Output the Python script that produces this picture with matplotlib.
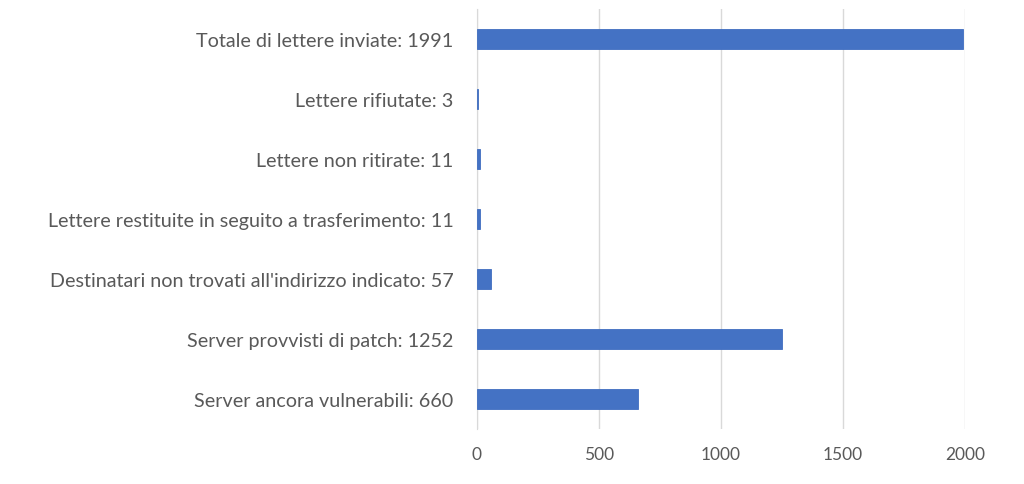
import matplotlib
matplotlib.use("Agg")
import matplotlib.pyplot as plt

# dati
categorie = [
    "Totale di lettere inviate: 1991",
    "Lettere rifiutate: 3",
    "Lettere non ritirate: 11",
    "Lettere restituite in seguito a trasferimento: 11",
    "Destinatari non trovati all'indirizzo indicato: 57",
    "Server provvisti di patch: 1252",
    "Server ancora vulnerabili: 660",
]
valori = [1991, 3, 11, 11, 57, 1252, 660]
ticks_x = [0, 500, 1000, 1500, 2000]

plt.rcParams['font.family'] = ['Lato', 'DejaVu Sans']
text_col = "#595959"

fig = plt.figure(figsize=(10.24, 4.85), dpi=100)
ax = fig.add_axes([0.4658, 0.1134, 0.4766, 0.8660])

pos = list(range(len(categorie)))
ax.barh(pos, valori, height=0.34, color="#4472C4", edgecolor="#3F6DC0", linewidth=0.6, zorder=3)

ax.set_ylim(len(categorie) - 0.5, -0.5)
ax.set_xlim(0, 2000)
ax.set_xticks(ticks_x)
ax.set_yticks(pos)
ax.set_yticklabels(categorie)

ax.grid(axis="x", color="#D9D9D9", linewidth=1, zorder=0)
for s in ["top", "right", "bottom"]:
    ax.spines[s].set_visible(False)
ax.spines["left"].set_color("#D9D9D9")
ax.spines["left"].set_zorder(1)

ax.tick_params(axis="both", length=0, colors=text_col)
ax.tick_params(axis="y", pad=17, labelsize=14.2)
ax.tick_params(axis="x", pad=12, labelsize=12.5)

plt.savefig("out.png", dpi=100)
